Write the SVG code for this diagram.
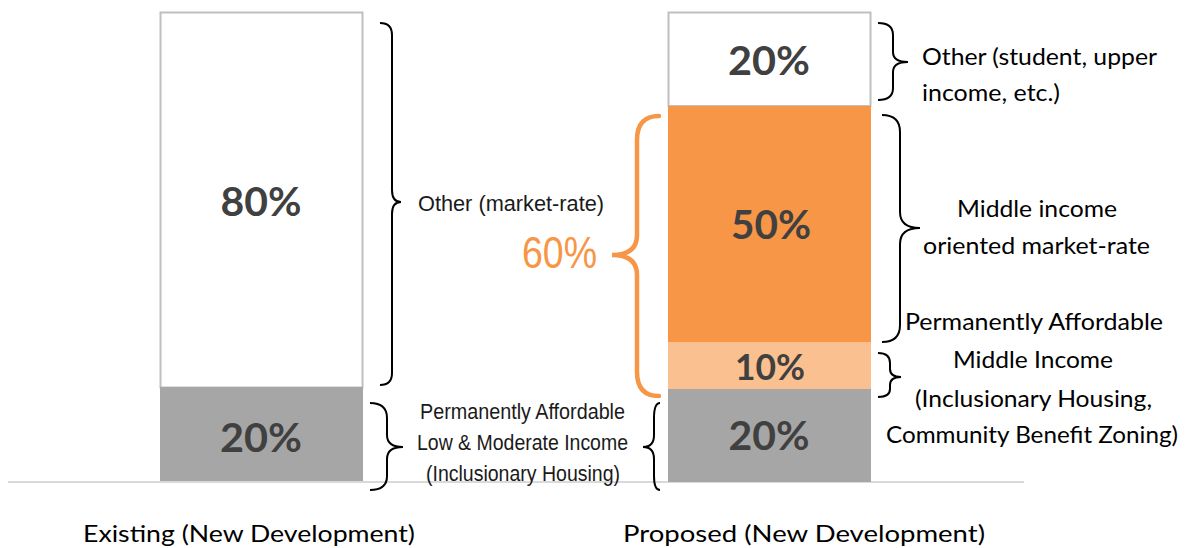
<svg xmlns="http://www.w3.org/2000/svg" width="1185" height="548" viewBox="0 0 1185 548">
<style>
.pct{font-family:Lato,"Open Sans",sans-serif;font-weight:bold;fill:#404040;text-anchor:middle}
.cal{font-family:Lato,"Open Sans",sans-serif;font-size:22.5px;fill:#000}
.nar{font-family:"Liberation Sans Narrow","Liberation Sans",sans-serif;font-size:22px;fill:#1a1a1a}
.brace{fill:none;stroke:#000;stroke-width:2}
.obrace{fill:none;stroke:#f79646;stroke-width:4.5;stroke-linecap:round}
.bot{font-family:Lato,"Open Sans",sans-serif;font-size:24px;fill:#000}
</style>
<rect width="1185" height="548" fill="#fff"/>
<line x1="8" y1="482" x2="1024" y2="482" stroke="#d9d9d9" stroke-width="2"/>
<g id="existing-bar">
<rect x="160.5" y="12.5" width="202" height="375" fill="#fff" stroke="#bfbfbf" stroke-width="2"/>
<rect x="160" y="387" width="203" height="94" fill="#a6a6a6"/>
<text class="pct" x="261" y="216" font-size="40" textLength="81" lengthAdjust="spacingAndGlyphs">80%</text>
<text class="pct" x="261" y="452" font-size="40" textLength="82" lengthAdjust="spacingAndGlyphs">20%</text>
</g>
<g id="proposed-bar">
<rect x="668.5" y="12.5" width="202" height="93.5" fill="#fff" stroke="#bfbfbf" stroke-width="2"/>
<rect x="668" y="106" width="203" height="236" fill="#f79646"/>
<rect x="668" y="342" width="203" height="47" fill="#fac090"/>
<rect x="668" y="389" width="203" height="93" fill="#a6a6a6"/>
<text class="pct" x="769" y="75" font-size="40" textLength="82" lengthAdjust="spacingAndGlyphs">20%</text>
<text class="pct" x="771" y="239" font-size="40" textLength="80" lengthAdjust="spacingAndGlyphs">50%</text>
<text class="pct" x="770" y="380" font-size="36" textLength="70" lengthAdjust="spacingAndGlyphs">10%</text>
<text class="pct" x="769" y="450" font-size="40" textLength="81" lengthAdjust="spacingAndGlyphs">20%</text>
</g>
<g id="connectors">
<path class="brace" d="M380,23 Q392,23 392,35 L392,190 Q392,202 401,202 Q392,202 392,214 L392,373 Q392,385 380,385"/>
<path class="brace" d="M370,403 Q387,403 387,418 L387,435 Q387,447 403,447 Q387,447 387,459 L387,476 Q387,490 370,490"/>
<path class="brace" d="M660,403 Q654,403 654,418 L654,435 Q654,447 643,447 Q654,447 654,459 L654,476 Q654,490 660,490"/>
<path class="obrace" d="M659,116 Q637,116 637,140 L637,235 Q637,255 612,255 Q637,255 637,275 L637,372 Q637,396 659,396"/>
<path class="brace" d="M878,23 Q893,23 893,35 L893,52 Q893,62 908,62 Q893,62 893,72 L893,88 Q893,100 878,100"/>
<path class="brace" d="M882,115 Q900,115 900,132 L900,212 Q900,228 920,228 Q900,228 900,244 L900,325 Q900,342 882,342"/>
<path class="brace" d="M878,353 Q890,353 890,363 L890,369 Q890,377 901,377 Q890,377 890,385 L890,389 Q890,397 878,397"/>
</g>
<g id="label-existing-other">
<text class="nar" x="418" y="211" textLength="186" lengthAdjust="spacingAndGlyphs">Other (market-rate)</text>
</g>
<g id="label-existing-affordable">
<text class="nar" x="420" y="419" textLength="205" lengthAdjust="spacingAndGlyphs">Permanently Affordable</text>
<text class="nar" x="417" y="450" textLength="211" lengthAdjust="spacingAndGlyphs">Low &amp; Moderate Income</text>
<text class="nar" x="426" y="481" textLength="194" lengthAdjust="spacingAndGlyphs">(Inclusionary Housing)</text>
</g>
<g id="label-60">
<text x="522" y="268" font-family="'Liberation Sans Narrow','Liberation Sans',sans-serif" font-size="44" fill="#f79646" textLength="75" lengthAdjust="spacingAndGlyphs">60%</text>
</g>
<g id="label-other-upper">
<text class="cal" x="922" y="65" textLength="235" lengthAdjust="spacingAndGlyphs">Other (student, upper</text>
<text class="cal" x="922" y="101" textLength="138" lengthAdjust="spacingAndGlyphs">income, etc.)</text>
</g>
<g id="label-middle-market">
<text class="cal" x="957" y="217" textLength="160" lengthAdjust="spacingAndGlyphs">Middle income</text>
<text class="cal" x="923" y="254" textLength="227" lengthAdjust="spacingAndGlyphs">oriented market-rate</text>
</g>
<g id="label-middle-affordable">
<text class="cal" x="905" y="330" textLength="258" lengthAdjust="spacingAndGlyphs">Permanently Affordable</text>
<text class="cal" x="953" y="368" textLength="160" lengthAdjust="spacingAndGlyphs">Middle Income</text>
<text class="cal" x="915" y="407" textLength="237" lengthAdjust="spacingAndGlyphs">(Inclusionary Housing,</text>
<text class="cal" x="886" y="443" textLength="292" lengthAdjust="spacingAndGlyphs">Community Benefit Zoning)</text>
</g>
<g id="axis-labels">
<text class="bot" x="83" y="542" textLength="332" lengthAdjust="spacingAndGlyphs">Existing (New Development)</text>
<text class="bot" x="623" y="542" textLength="362" lengthAdjust="spacingAndGlyphs">Proposed (New Development)</text>
</g>
</svg>
